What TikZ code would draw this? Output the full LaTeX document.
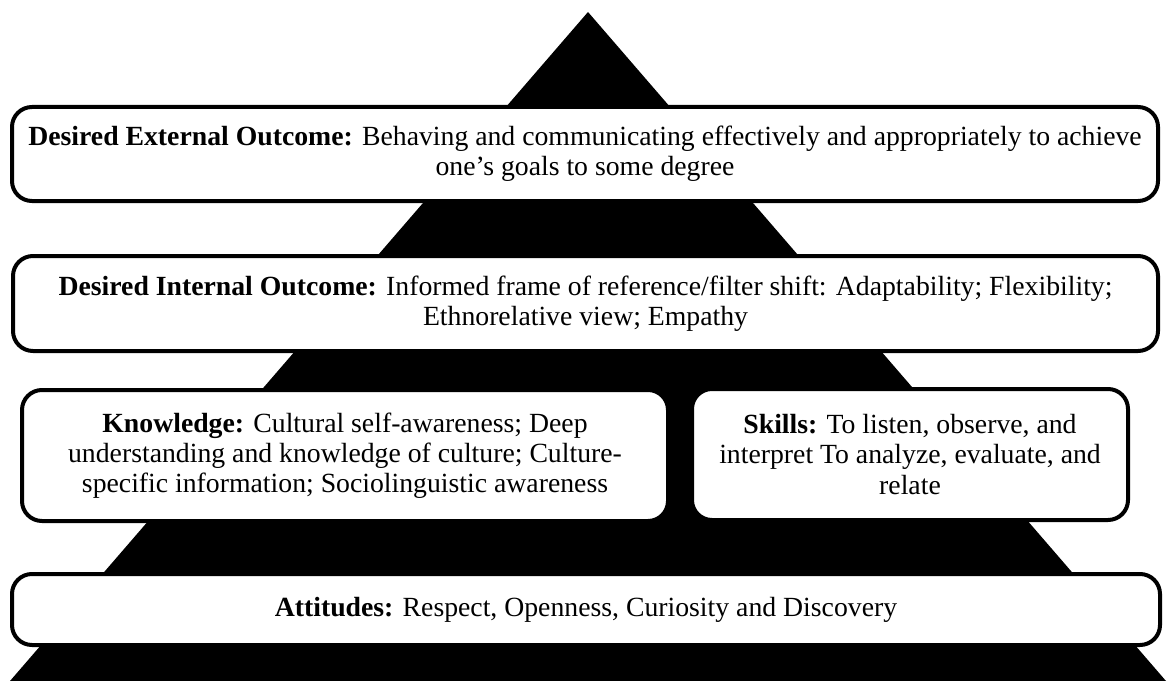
\documentclass[tikz,border=0pt]{standalone}
\usepackage{fontspec}
\setmainfont{Liberation Serif}
\usetikzlibrary{positioning}

\begin{document}
\begin{tikzpicture}[x=0.75pt,y=-0.75pt,
    tier/.style={draw, line width=3pt, fill=white, rounded corners=15pt,
        align=center, inner sep=0pt, font=\fontsize{20.8}{22.6}\selectfont}]

\useasboundingbox (0,0) rectangle (1170,681);

\coordinate (apex) at (588,12);
\coordinate (baseL) at (10,681);
\coordinate (baseR) at (1166,681);

\fill (apex) -- (baseR) -- (baseL) -- cycle;

\node [tier, minimum width=859.5pt, minimum height=70.5pt] (external) at (585,154)
    {\textbf{Desired External Outcome:} Behaving and communicating effectively and appropriately to achieve\\
     one’s goals to some degree};

\node [tier, minimum width=858.75pt, minimum height=71.25pt] (internal) at (585.5,303.5)
    {\textbf{Desired Internal Outcome:} Informed frame of reference/filter shift: Adaptability; Flexibility;\\
     Ethnorelative view; Empathy};

\node [tier, minimum width=484.5pt, minimum height=98.25pt] (knowledge) at (345,455.5)
    {\textbf{Knowledge:} Cultural self-awareness; Deep\\
     understanding and knowledge of culture; Culture-\\
     specific information; Sociolinguistic awareness};

\node [tier, minimum width=327pt, minimum height=98.25pt] (skills) at (910,454.5)
    {\textbf{Skills:} To listen, observe, and\\
     interpret To analyze, evaluate, and\\
     relate};

\node [tier, minimum width=861pt, minimum height=53.25pt] (attitudes) at (586,609.5)
    {\textbf{Attitudes:} Respect, Openness, Curiosity and Discovery};

\end{tikzpicture}
\end{document}
